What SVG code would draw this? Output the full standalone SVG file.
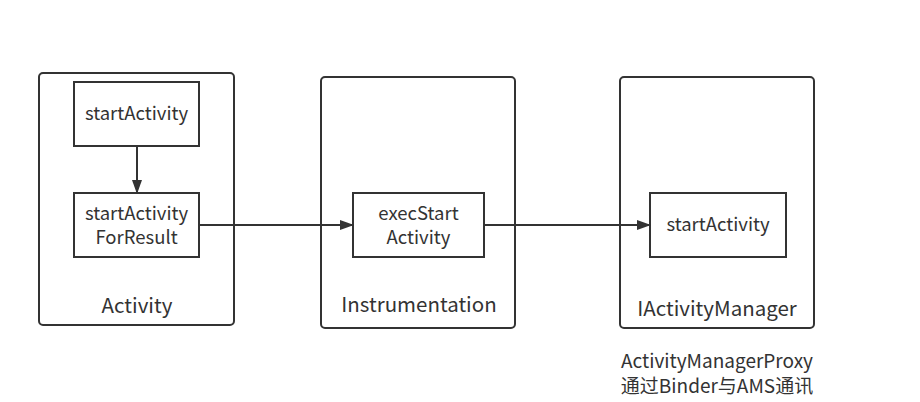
<svg xmlns="http://www.w3.org/2000/svg" width="920" height="402" viewBox="0 0 920 402">
<style>
.outer{fill:#fff;stroke:#333;stroke-width:2}
.inner{fill:#fff;stroke:#333;stroke-width:2}
text{font-family:"Noto Sans CJK SC","Noto Sans",sans-serif;fill:#333;text-anchor:middle}
.t{font-size:18.5px}
.l{font-size:20.5px}
.n{font-size:19px}
.conn{stroke:#333;stroke-width:2;fill:none}
</style>
<defs>
<marker id="arr" markerWidth="14" markerHeight="10" refX="13" refY="5" orient="auto" markerUnits="userSpaceOnUse">
<path d="M0,0 L14,5 L0,10 Z" fill="#333"/>
</marker>
</defs>
<rect width="920" height="402" fill="#fff"/>
<g id="activity">
<rect class="outer" x="39" y="73" width="195" height="252" rx="4"/>
<text class="l" x="137" y="313">Activity</text>
</g>
<g id="instrumentation">
<rect class="outer" x="321" y="77" width="194" height="251" rx="4"/>
<text class="l" x="419" y="312">Instrumentation</text>
</g>
<g id="iactivitymanager">
<rect class="outer" x="620" y="77" width="194" height="251" rx="4"/>
<text class="l" x="717" y="316">IActivityManager</text>
</g>
<g id="startActivity1">
<rect class="inner" x="74" y="82" width="125" height="64"/>
<text class="t" x="136.5" y="120">startActivity</text>
</g>
<g id="startActivityForResult">
<rect class="inner" x="74" y="193" width="125" height="64"/>
<text class="t" x="136.5" y="220">startActivity</text>
<text class="t" x="136.5" y="244">ForResult</text>
</g>
<g id="execStartActivity">
<rect class="inner" x="353" y="193" width="131" height="64"/>
<text class="t" x="418.5" y="220">execStart</text>
<text class="t" x="418.5" y="244">Activity</text>
</g>
<g id="startActivity2">
<rect class="inner" x="650" y="193" width="136" height="64"/>
<text class="t" x="718" y="231">startActivity</text>
</g>
<g id="note">
<text class="n" x="717" y="368">ActivityManagerProxy</text>
<text class="n" x="717" y="393">通过Binder与AMS通讯</text>
</g>
<g id="connectors">
<line class="conn" x1="137" y1="146" x2="137" y2="193" marker-end="url(#arr)"/>
<line class="conn" x1="199" y1="225" x2="353" y2="225" marker-end="url(#arr)"/>
<line class="conn" x1="484" y1="225" x2="650" y2="225" marker-end="url(#arr)"/>
</g>
</svg>
